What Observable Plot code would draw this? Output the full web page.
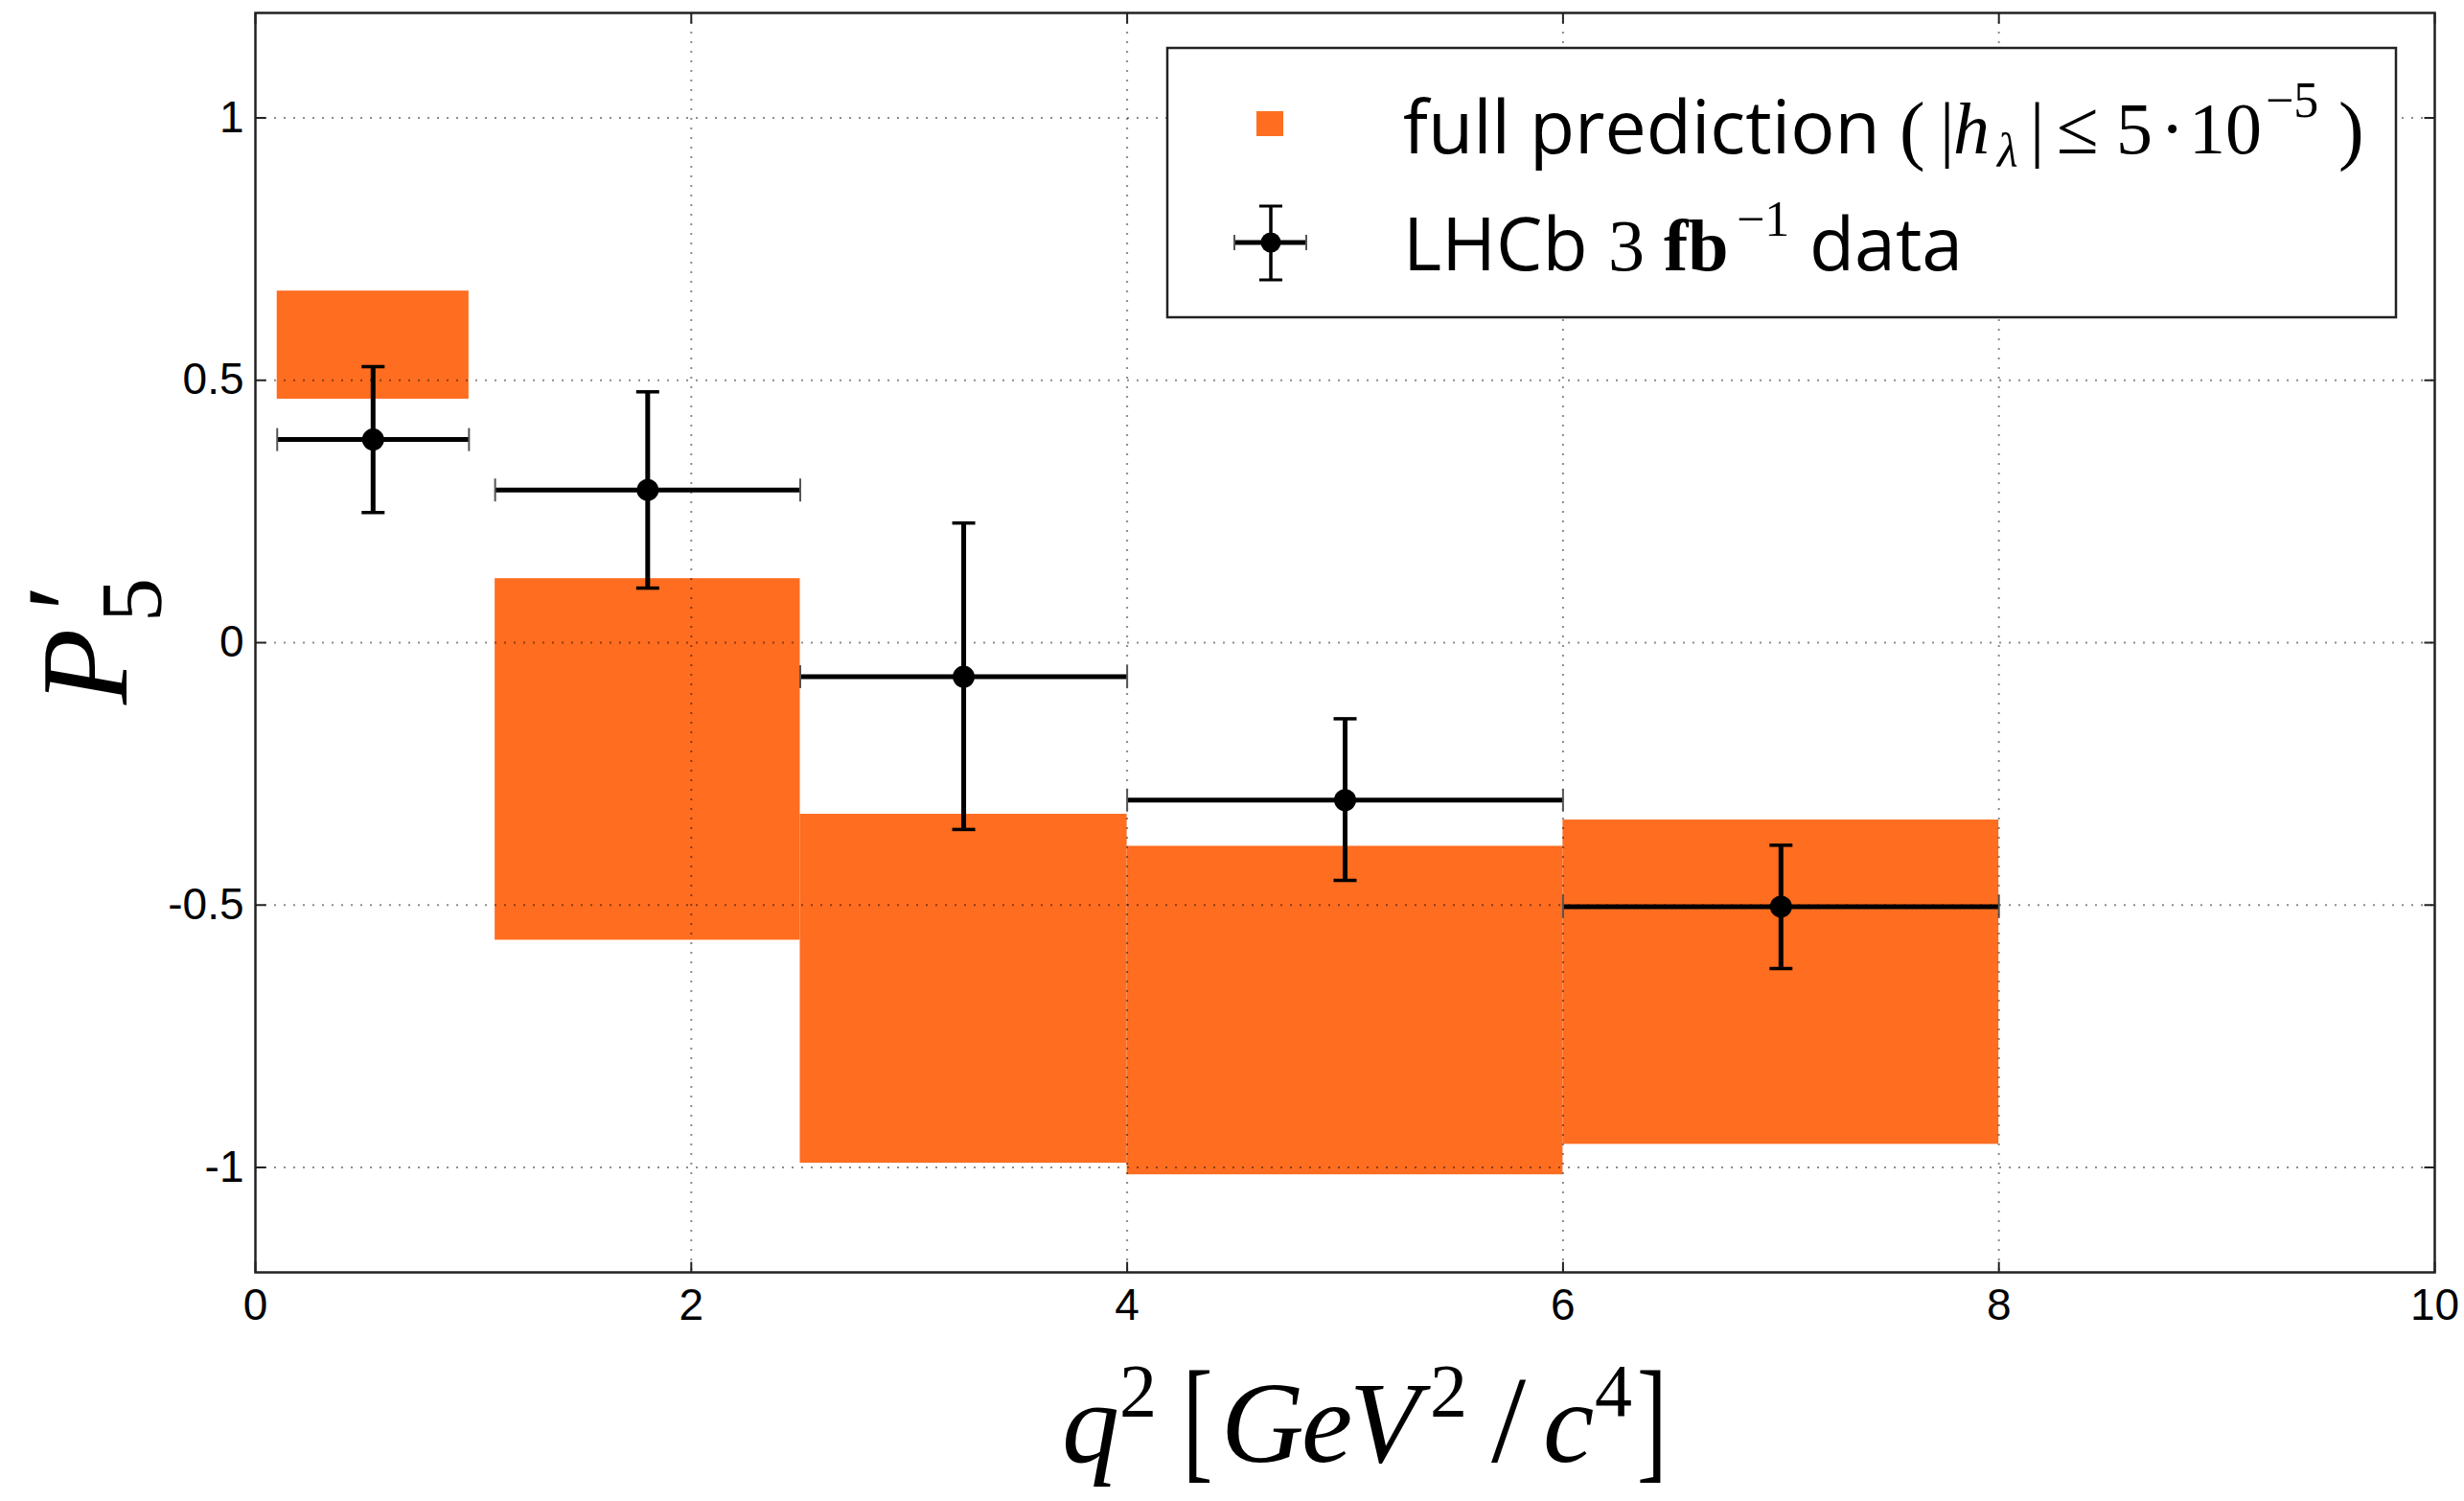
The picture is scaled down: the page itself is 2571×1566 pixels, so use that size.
<!DOCTYPE html>
<html>
<head>
<meta charset="utf-8">
<script src="https://cdn.jsdelivr.net/npm/d3@7"></script>
<script src="https://cdn.jsdelivr.net/npm/@observablehq/plot@0.6"></script>
<style>
  html, body { margin: 0; padding: 0; background: #fff; }
  #chart { width: 2571px; height: 1566px; }
</style>
</head>
<body>
<div id="chart"></div>
<script>
// ---- data ----
const binLo   = [0.1, 1.1, 2.5, 4.0, 6.0];
const binHi   = [0.98, 2.5, 4.0, 6.0, 8.0];
const predLo  = [0.464, -0.567, -0.992, -1.014, -0.956];
const predHi  = [0.670, 0.122, -0.327, -0.388, -0.338];
const dataX   = [0.54, 1.8, 3.25, 5.0, 7.0];
const dataY   = [0.387, 0.291, -0.065, -0.300, -0.503];
const errLo   = [0.248, 0.104, -0.356, -0.453, -0.621];
const errHi   = [0.526, 0.478, 0.228, -0.145, -0.386];
const xTicks  = [0, 2, 4, 6, 8, 10];
const yTicks  = [-1, -0.5, 0, 0.5, 1];
const xGrid   = [2, 4, 6, 8];
const yGrid   = [-1, -0.5, 0, 0.5, 1];
const legendLabels = ["full prediction", "LHCb", "data"];

const ORANGE = "#fe6d20";

const pred = binLo.map((lo, i) => ({x1: lo, x2: binHi[i], y1: predLo[i], y2: predHi[i]}));
const pts = dataX.map((x, i) => ({x, y: dataY[i], lo: errLo[i], hi: errHi[i], xlo: binLo[i], xhi: binHi[i]}));

// custom symbols (pixel-sized strokes)
const rad = s => Math.sqrt(s / Math.PI);
const hcap = {draw(c, s) { const r = rad(s); c.moveTo(-r, 0); c.lineTo(r, 0); }};
const vcap = {draw(c, s) { const r = rad(s); c.moveTo(0, -r); c.lineTo(0, r); }};
const tUp = {draw(c, s) { const r = rad(s); c.moveTo(0, 0); c.lineTo(0, -r); }};
const tDown = {draw(c, s) { const r = rad(s); c.moveTo(0, 0); c.lineTo(0, r); }};
const tRight = {draw(c, s) { const r = rad(s); c.moveTo(0, 0); c.lineTo(r, 0); }};
const tLeft = {draw(c, s) { const r = rad(s); c.moveTo(0, 0); c.lineTo(-r, 0); }};

const gridStyle = {stroke: "#000", strokeOpacity: 0.45, strokeWidth: 2, strokeDasharray: "2,8"};
const tickStyle = {r: 11, stroke: "#222", strokeWidth: 2, fill: "none"};

const chart = Plot.plot({
  width: 2571,
  height: 1566,
  marginLeft: 266,
  marginRight: 31,
  marginTop: 13,
  marginBottom: 239,
  x: {domain: [0, 10]},
  y: {domain: [-1.2, 1.2]},
  style: {fontFamily: "'Liberation Sans', Arial, sans-serif", fontSize: "46px", color: "#000", background: "#fff"},
  marks: [
    Plot.rect(pred, {x1: "x1", x2: "x2", y1: "y1", y2: "y2", fill: ORANGE}),
    Plot.gridX(xGrid, gridStyle),
    Plot.gridY(yGrid, gridStyle),
    Plot.frame({stroke: "#222", strokeWidth: 2.5}),
    Plot.dot(xTicks, {x: d => d, frameAnchor: "bottom", symbol: tUp, ...tickStyle}),
    Plot.dot(xTicks, {x: d => d, frameAnchor: "top", symbol: tDown, ...tickStyle}),
    Plot.dot(yTicks, {y: d => d, frameAnchor: "left", symbol: tRight, ...tickStyle}),
    Plot.dot(yTicks, {y: d => d, frameAnchor: "right", symbol: tLeft, ...tickStyle}),
    Plot.link(pts, {x1: "x", x2: "x", y1: "lo", y2: "hi", stroke: "#000", strokeWidth: 5}),
    Plot.link(pts, {x1: "xlo", x2: "xhi", y1: "y", y2: "y", stroke: "#000", strokeWidth: 5}),
    Plot.dot(pts, {x: "x", y: "lo", symbol: hcap, r: 12, stroke: "#000", strokeWidth: 3.5}),
    Plot.dot(pts, {x: "x", y: "hi", symbol: hcap, r: 12, stroke: "#000", strokeWidth: 3.5}),
    Plot.dot(pts, {x: "xlo", y: "y", symbol: vcap, r: 12, stroke: "#555", strokeWidth: 2}),
    Plot.dot(pts, {x: "xhi", y: "y", symbol: vcap, r: 12, stroke: "#555", strokeWidth: 2}),
    Plot.dot(pts, {x: "x", y: "y", r: 11.5, fill: "#000", stroke: "none"}),
    Plot.axisX(xTicks, {tickSize: 0, tickPadding: 17, tickFormat: d => String(d), label: null}),
    Plot.axisY(yTicks, {tickSize: 0, tickPadding: 12, tickFormat: d => String(d), label: null})
  ]
});

document.getElementById("chart").appendChild(chart);
const svg = d3.select(chart);

// ---- y axis label P'_5 ----
const serif = "'Liberation Serif', 'Times New Roman', serif";
const yl = svg.append("text")
  .attr("transform", "translate(132,735) rotate(-90)")
  .attr("text-anchor", "start")
  .attr("font-family", serif)
  .attr("font-size", 130)
  .attr("fill", "#000");
yl.append("tspan").attr("x", 0).attr("y", 0).attr("font-style", "italic").text("P");
yl.append("tspan").attr("x", 86).attr("y", 36).attr("font-size", 92).text("5");
yl.append("tspan").attr("x", 98).attr("y", -18).attr("font-size", 124).text("′");

// ---- x axis label q^2 [GeV^2/c^4] ----
const xl = svg.append("text")
  .attr("text-anchor", "start")
  .attr("font-family", serif)
  .attr("fill", "#000")
  .attr("font-size", 120);
const xparts = [
  {t: "q", x: 1108, y: 1525, it: true},
  {t: "2", x: 1168, y: 1477, fs: 78},
  {t: "G", x: 1274, y: 1525, it: true},
  {t: "e", x: 1358, y: 1525, it: true},
  {t: "V", x: 1408, y: 1525, it: true},
  {t: "2", x: 1492, y: 1477, fs: 78},
  {t: "/", x: 1556, y: 1525, fs: 130},
  {t: "c", x: 1610, y: 1525, it: true},
  {t: "4", x: 1664, y: 1477, fs: 78}
];
xparts.forEach(p => {
  const s = xl.append("tspan").attr("x", p.x).attr("y", p.y).text(p.t);
  if (p.it) s.attr("font-style", "italic");
  if (p.fs) s.attr("font-size", p.fs);
});
// tall, narrow brackets
[["[", 1234], ["]", 1708]].forEach(([t, x]) => {
  svg.append("text")
    .attr("text-anchor", "start")
    .attr("font-family", serif)
    .attr("font-size", 118)
    .attr("fill", "#000")
    .attr("transform", `translate(${x},1528) scale(0.8,1.2)`)
    .text(t);
});

// ---- legend ----
const lg = svg.append("g").attr("text-anchor", "start");
lg.append("rect").attr("x", 1218).attr("y", 50).attr("width", 1282).attr("height", 281)
  .attr("fill", "#fff").attr("stroke", "#222").attr("stroke-width", 2.5);
// orange swatch
lg.append("rect").attr("x", 1311).attr("y", 116).attr("width", 28).attr("height", 26).attr("fill", ORANGE);
// errorbar icon
const ic = lg.append("g").attr("stroke", "#000");
ic.append("line").attr("x1", 1288).attr("x2", 1363).attr("y1", 253).attr("y2", 253).attr("stroke-width", 5);
ic.append("line").attr("x1", 1326).attr("x2", 1326).attr("y1", 215).attr("y2", 292).attr("stroke-width", 3.5);
ic.append("line").attr("x1", 1314).attr("x2", 1338).attr("y1", 215).attr("y2", 215).attr("stroke-width", 3);
ic.append("line").attr("x1", 1314).attr("x2", 1338).attr("y1", 292).attr("y2", 292).attr("stroke-width", 3);
ic.append("line").attr("x1", 1288).attr("x2", 1288).attr("y1", 245).attr("y2", 261).attr("stroke", "#555").attr("stroke-width", 2);
ic.append("line").attr("x1", 1363).attr("x2", 1363).attr("y1", 245).attr("y2", 261).attr("stroke", "#555").attr("stroke-width", 2);
lg.append("circle").attr("cx", 1326).attr("cy", 253).attr("r", 10.5).attr("fill", "#000");

const sans = "'Open Sans', 'Noto Sans', sans-serif";
// line 1
const t1 = lg.append("text").attr("text-anchor", "start").attr("fill", "#000").attr("font-family", sans).attr("font-size", 77);
t1.append("tspan").attr("x", 1464).attr("y", 160).text(legendLabels[0]);
const m1 = [
  {t: "(", x: 1982, y: 162, fs: 80},
  {t: "|", x: 2024, y: 160, fs: 76},
  {t: "h", x: 2038, y: 160, fs: 76, it: true},
  {t: "λ", x: 2084, y: 174, fs: 50, it: true},
  {t: "|", x: 2118, y: 160, fs: 76},
  {t: "≤", x: 2146, y: 160, fs: 80},
  {t: "5", x: 2208, y: 160, fs: 76},
  {t: "·", x: 2254, y: 160, fs: 76},
  {t: "10", x: 2284, y: 160, fs: 76},
  {t: "−5", x: 2364, y: 122, fs: 52},
  {t: ")", x: 2440, y: 162, fs: 80}
];
m1.forEach(p => {
  const s = t1.append("tspan").attr("x", p.x).attr("y", p.y).attr("font-family", serif)
    .attr("font-size", p.fs).text(p.t);
  if (p.it) s.attr("font-style", "italic");
});
// line 2
const t2 = lg.append("text").attr("text-anchor", "start").attr("fill", "#000").attr("font-family", sans).attr("font-size", 77);
t2.append("tspan").attr("x", 1464).attr("y", 282).text(legendLabels[1]);
t2.append("tspan").attr("x", 1678).attr("y", 282).attr("font-family", serif).attr("font-size", 76).text("3");
t2.append("tspan").attr("x", 1736).attr("y", 282).attr("font-family", serif).attr("font-weight", "bold").attr("font-size", 76).text("fb");
t2.append("tspan").attr("x", 1812).attr("y", 246).attr("font-family", serif).attr("font-size", 52).text("−1");
t2.append("tspan").attr("x", 1888).attr("y", 282).text(legendLabels[2]);
</script>
</body>
</html>
